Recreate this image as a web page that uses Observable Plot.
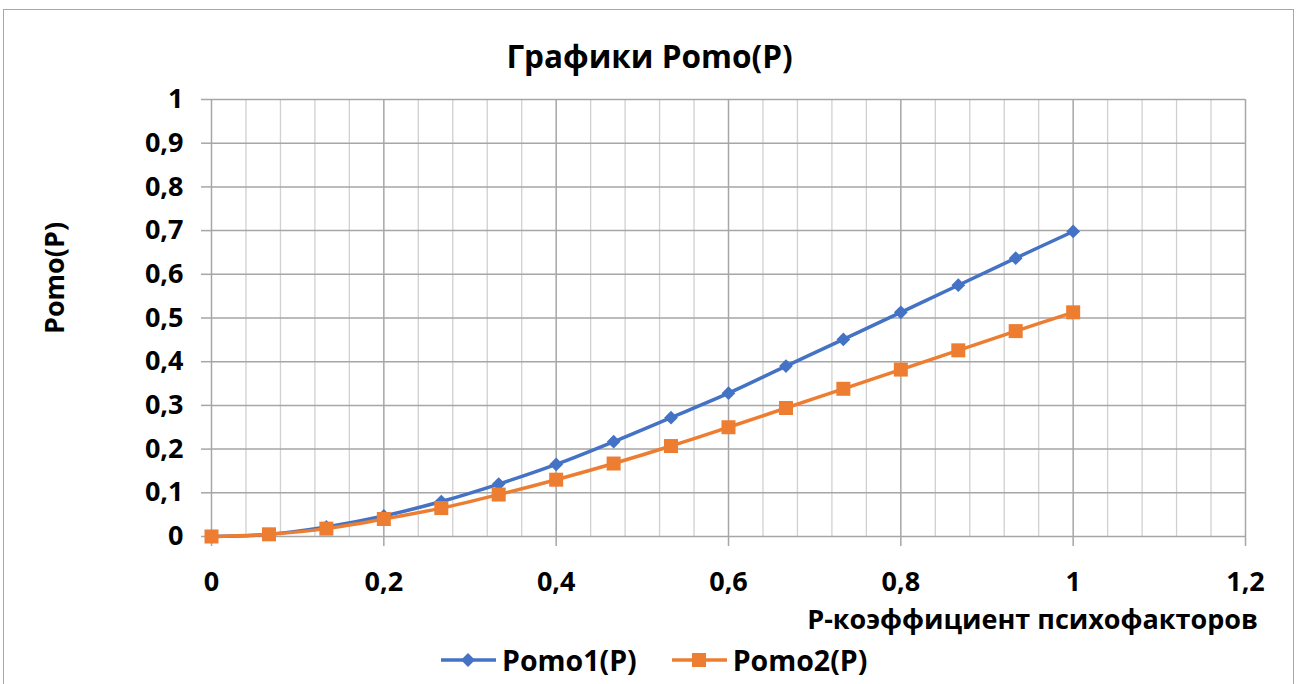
<!DOCTYPE html>
<html><head><meta charset="utf-8">
<script src="https://cdn.jsdelivr.net/npm/d3@7"></script>
<script src="https://cdn.jsdelivr.net/npm/@observablehq/plot@0.6"></script>
<style>
body{margin:0;background:#fff;font-family:"Open Sans","Noto Sans",sans-serif;font-weight:bold;color:#000;width:1299px;height:684px;overflow:hidden;position:relative;}
#frame{position:absolute;left:3px;top:9px;width:1291px;height:690px;border:1.5px solid #a8a8a8;box-sizing:border-box;}
#chart{position:absolute;left:0;top:0;}
#title{position:absolute;left:0;width:1299px;top:40px;text-align:center;font-size:31.5px;line-height:31.5px;white-space:nowrap;}
#ylab{position:absolute;left:53px;top:278px;transform:translate(-50%,-50%) rotate(-90deg);font-size:27px;line-height:27px;white-space:nowrap;}
#xlab{position:absolute;right:41px;top:605px;font-size:27px;line-height:27px;white-space:nowrap;}
#legend{position:absolute;left:441px;top:642px;display:flex;align-items:center;font-size:28.5px;line-height:36px;gap:35px;white-space:nowrap;}
.item{display:flex;align-items:center;gap:6px;}
</style></head><body>
<div id="frame"></div>
<div id="chart"></div>
<div id="title">Графики Pomo(P)</div>
<div id="ylab">Pomo(P)</div>
<div id="xlab">P-коэффициент психофакторов</div>
<div id="legend"></div>
<script>
// Data
const pValues = [0, 0.0667, 0.1333, 0.2, 0.2667, 0.3333, 0.4, 0.4667, 0.5333, 0.6, 0.6667, 0.7333, 0.8, 0.8667, 0.9333, 1];
const pomo1 = [0, 0.005, 0.022, 0.047, 0.08, 0.12, 0.165, 0.217, 0.272, 0.328, 0.39, 0.451, 0.513, 0.575, 0.637, 0.698];
const pomo2 = [0, 0.005, 0.018, 0.04, 0.065, 0.096, 0.13, 0.167, 0.207, 0.25, 0.294, 0.338, 0.382, 0.426, 0.47, 0.513];
const seriesNames = ["Pomo1(P)", "Pomo2(P)"];
const seriesColors = ["#4472C4", "#ED7D31"];
const xTicks = [0, 0.2, 0.4, 0.6, 0.8, 1, 1.2];
const xMinorTicks = [0.04,0.08,0.12,0.16,0.24,0.28,0.32,0.36,0.44,0.48,0.52,0.56,0.64,0.68,0.72,0.76,0.84,0.88,0.92,0.96,1.04,1.08,1.12,1.16];
const yTicks = [0, 0.1, 0.2, 0.3, 0.4, 0.5, 0.6, 0.7, 0.8, 0.9, 1];

const fmt = d => String(d).replace(".", ",");
const s1 = pValues.map((p, i) => ({p, v: pomo1[i]}));
const s2 = pValues.map((p, i) => ({p, v: pomo2[i]}));

const chart = Plot.plot({
  width: 1299,
  height: 640,
  marginLeft: 211,
  marginRight: 54,
  marginTop: 99,
  marginBottom: 104,
  style: {fontFamily: '"Open Sans", "Noto Sans", sans-serif', fontSize: "27px", fontWeight: "bold", color: "#000", background: "transparent", overflow: "visible"},
  x: {domain: [0, 1.2]},
  y: {domain: [0, 1]},
  marks: [
    Plot.ruleX(xMinorTicks, {stroke: "#d0d0d0", strokeWidth: 1.3}),
    Plot.ruleX(xTicks, {stroke: "#a6a6a6", strokeWidth: 1.5}),
    Plot.ruleY(yTicks, {stroke: "#a6a6a6", strokeWidth: 1.5}),
    Plot.axisY({ticks: yTicks, tickFormat: fmt, tickSize: 10, tickPadding: 18, stroke: "#a6a6a6", strokeWidth: 1.5, fill: "#000", label: null}),
    Plot.axisX({ticks: xTicks, tickFormat: fmt, tickSize: 10, tickPadding: 25, stroke: "#a6a6a6", strokeWidth: 1.5, fill: "#000", label: null}),
    Plot.line(s1, {x: "p", y: "v", stroke: seriesColors[0], strokeWidth: 3.5, curve: "catmull-rom"}),
    Plot.line(s2, {x: "p", y: "v", stroke: seriesColors[1], strokeWidth: 3.5, curve: "catmull-rom"}),
    Plot.dot(s1, {x: "p", y: "v", symbol: "diamond2", r: 6.2, fill: seriesColors[0], stroke: "none"}),
    Plot.dot(s2, {x: "p", y: "v", symbol: "square", r: 7.9, fill: seriesColors[1], stroke: "none"})
  ]
});
document.getElementById("chart").appendChild(chart);

// Legend
const legend = document.getElementById("legend");
seriesNames.forEach((name, i) => {
  const item = document.createElement("div");
  item.className = "item";
  const marker = i === 0
    ? `<polygon points="27,4 34,11 27,18 20,11" fill="${seriesColors[i]}"/>`
    : `<rect x="20" y="4" width="14" height="14" fill="${seriesColors[i]}"/>`;
  item.innerHTML = `<svg width="55" height="22"><line x1="0" x2="55" y1="11" y2="11" stroke="${seriesColors[i]}" stroke-width="3.5"/>${marker}</svg><span>${name}</span>`;
  legend.appendChild(item);
});
</script>
</body></html>
